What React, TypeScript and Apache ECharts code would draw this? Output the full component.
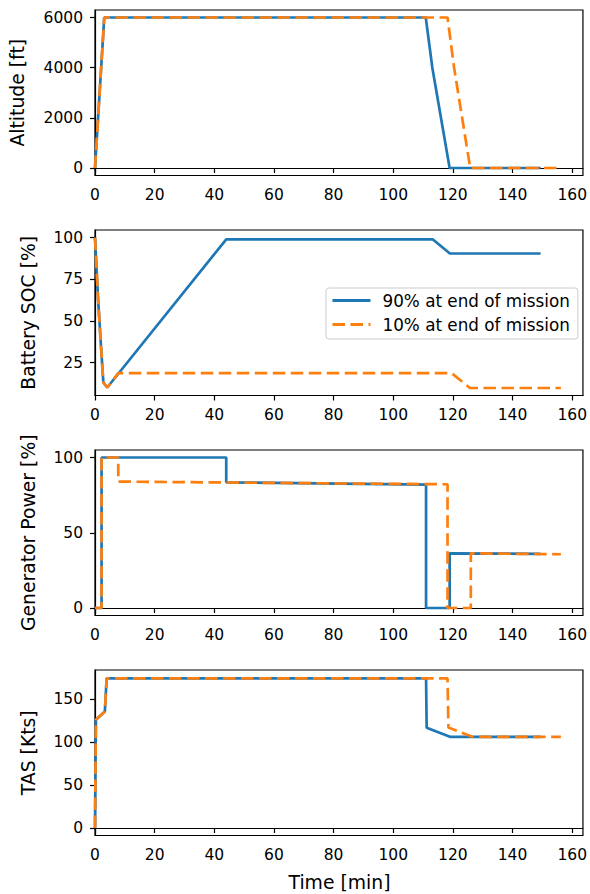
import React, { useEffect, useRef } from "react";
import * as echarts from "echarts";

const xTicks = [0, 20, 40, 60, 80, 100, 120, 140, 160];

const altTicks = [0, 2000, 4000, 6000];
const altBlueT = [0, 3.1, 110.9, 113.1, 118.9, 149.4];
const altBlueV = [0, 6000, 6000, 4000, 0, 0];
const altOrangeT = [0, 3.1, 118.2, 120.4, 125.8, 156.2];
const altOrangeV = [0, 6000, 6000, 4000, 0, 0];

const socTicks = [25, 50, 75, 100];
const socBlueT = [0, 1, 2, 2.8, 4.1, 44, 113.2, 119, 149.4];
const socBlueV = [100, 64, 35, 13, 10, 99, 99, 90.5, 90.5];
const socOrangeT = [0, 1, 2, 2.8, 4.1, 7.8, 119.6, 125.7, 156.2];
const socOrangeV = [100, 64, 35, 13, 10, 18.6, 18.6, 9.7, 9.7];

const genTicks = [0, 50, 100];
const genBlueT = [0, 2.2, 2.2, 44, 44, 111, 111, 118.9, 118.9, 149.4];
const genBlueV = [0, 0, 100, 100, 83.5, 82, 0, 0, 36.3, 36];
const genOrangeT = [0, 2.2, 2.2, 7.8, 7.8, 118.2, 118.2, 126, 126, 156.2];
const genOrangeV = [0, 0, 100, 100, 84, 82.2, 0, 0, 36.3, 35.7];

const tasTicks = [0, 50, 100, 150];
const tasBlueT = [0, 0.3, 3.3, 3.9, 111, 111.2, 119, 149.4];
const tasBlueV = [0, 126, 135.5, 174, 174, 116.7, 106, 106];
const tasOrangeT = [0, 0.3, 3.3, 3.9, 118.2, 118.5, 126.5, 156.2];
const tasOrangeV = [0, 126, 135.5, 174, 174, 117, 106, 106];

const seriesNames = ["90% at end of mission", "10% at end of mission"];
const yLabels = ["Altitude [ft]", "Battery SOC [%]", "Generator Power [%]", "TAS [Kts]"];
const xLabel = "Time [min]";

const FONT = "DejaVu Sans";
const BLUE = "#1f77b4";
const ORANGE = "#ff7f0e";

const pair = (t: number[], v: number[]) => t.map((x, i) => [x, v[i]]);

export default function App() {
  const ref = useRef<HTMLDivElement>(null);
  useEffect(() => {
    document.body.style.margin = "0";
    const chart = echarts.init(ref.current!, null, { renderer: "svg" });
    const tops = [10, 230, 450, 670];
    const H = 165.5;
    const L = 95;
    const W = 489;
    const yRanges = [
      [-300, 6300],
      [5.2, 104.6],
      [-5, 105],
      [-8.75, 183.75],
    ];
    const yTickSets = [altTicks, socTicks, genTicks, tasTicks];
    const blues = [pair(altBlueT, altBlueV), pair(socBlueT, socBlueV), pair(genBlueT, genBlueV), pair(tasBlueT, tasBlueV)];
    const oranges = [pair(altOrangeT, altOrangeV), pair(socOrangeT, socOrangeV), pair(genOrangeT, genOrangeV), pair(tasOrangeT, tasOrangeV)];
    const yLabelX = [17.5, 28, 28, 28];

    const grid = tops.map((t) => ({
      left: L,
      top: t,
      width: W,
      height: H,
      show: true,
      borderColor: "#000",
      borderWidth: 1.2,
      backgroundColor: "transparent",
    }));
    const xAxis = tops.map((_, i) => ({
      type: "value",
      gridIndex: i,
      min: 0,
      max: 163.6,
      splitLine: { show: false },
      axisLine: { show: true, lineStyle: { color: "#000", width: 1.2 } },
      axisTick: { show: true, customValues: xTicks, length: 5, lineStyle: { color: "#000", width: 1.2 } },
      axisLabel: {
        customValues: xTicks,
        color: "#000",
        fontSize: 15.5,
        fontFamily: FONT,
        margin: 11,
        formatter: (v: number) => String(v),
      },
    }));
    const yAxis = tops.map((_, i) => ({
      type: "value",
      gridIndex: i,
      min: yRanges[i][0],
      max: yRanges[i][1],
      splitLine: { show: false },
      axisLine: { show: true, lineStyle: { color: "#000", width: 1.2 } },
      axisTick: { show: true, customValues: yTickSets[i], length: 5, lineStyle: { color: "#000", width: 1.2 } },
      axisLabel: {
        customValues: yTickSets[i],
        color: "#000",
        fontSize: 15.5,
        fontFamily: FONT,
        margin: 12,
        formatter: (v: number) => String(v),
      },
    }));
    const series: any[] = [];
    tops.forEach((_, i) => {
      series.push({
        type: "line",
        name: seriesNames[0],
        xAxisIndex: i,
        yAxisIndex: i,
        data: blues[i],
        symbol: "none",
        lineStyle: { color: BLUE, width: 2.7 },
        itemStyle: { color: BLUE },
        z: 2,
      });
      series.push({
        type: "line",
        name: seriesNames[1],
        xAxisIndex: i,
        yAxisIndex: i,
        data: oranges[i],
        symbol: "none",
        lineStyle: { color: ORANGE, width: 2.7, type: [12.5, 5.5] },
        itemStyle: { color: ORANGE },
        z: 3,
      });
    });
    const graphic: any[] = yLabels.map((txt, i) => ({
      type: "text",
      x: yLabelX[i],
      y: tops[i] + H / 2,
      rotation: Math.PI / 2,
      style: { text: txt, fontSize: 18.8, fontFamily: FONT, fill: "#000", align: "center", verticalAlign: "middle" },
    }));
    graphic.push({
      type: "text",
      x: L + W / 2,
      y: 882,
      style: { text: xLabel, fontSize: 18.8, fontFamily: FONT, fill: "#000", align: "center", verticalAlign: "middle" },
    });
    chart.setOption({
      animation: false,
      grid,
      xAxis,
      yAxis,
      series,
      graphic,
      legend: {
        data: seriesNames,
        orient: "vertical",
        left: 326,
        top: 288,
        itemWidth: 38,
        itemHeight: 14,
        itemGap: 7,
        padding: [4, 8, 6, 5],
        backgroundColor: "rgba(255,255,255,0.8)",
        borderColor: "#cccccc",
        borderWidth: 1,
        borderRadius: 3,
        itemStyle: { opacity: 0 },
        lineStyle: { width: 3 },
        textStyle: { fontSize: 16.8, fontFamily: FONT, color: "#000", padding: [0, 0, 0, 7] },
      },
    });
    return () => chart.dispose();
  }, []);
  return <div ref={ref} style={{ position: "absolute", left: 0, top: 0, width: 590, height: 894 }} />;
}
